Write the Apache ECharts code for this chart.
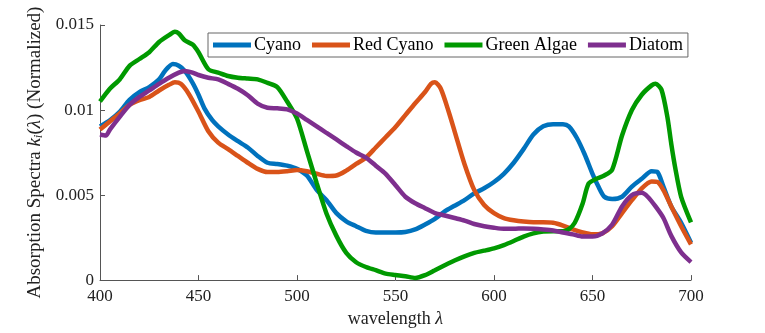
<!DOCTYPE html>
<html>
<head>
<meta charset="utf-8">
<script src="https://cdn.jsdelivr.net/npm/echarts@6/dist/echarts.min.js"></script>
<style>
  html, body { margin: 0; padding: 0; background: #fff; }
  #chart { width: 765px; height: 333px; }
</style>
</head>
<body>
<div id="chart"></div>
<script>
// values, in units of 1e-3
const cyanoX = [400,405,410,415,420,425,430,433,437,440,443,447,450,453,457,460,465,470,475,480,485,490,495,500,505,510,515,520,525,530,535,540,545,550,555,560,565,570,575,580,585,590,595,600,605,610,615,620,625,630,635,638,642,646,650,653,656,660,665,670,675,680,683,686,690,695,700]
const cyanoY = [9.04,9.4,9.9,10.6,11.05,11.35,11.8,12.3,12.7,12.6,12.3,11.6,10.9,10.1,9.4,9.04,8.56,8.17,7.8,7.3,6.9,6.83,6.73,6.54,6.15,5.3,4.7,3.94,3.46,3.17,2.9,2.8,2.8,2.8,2.83,2.98,3.27,3.6,4.04,4.37,4.7,5.1,5.4,5.77,6.25,6.9,7.7,8.56,9.04,9.17,9.17,9.04,8.37,7.4,6.25,5.5,4.9,4.77,4.9,5.5,5.96,6.4,6.35,5.5,4.33,3.37,2.2]

const redX = [400,405,410,415,420,425,430,435,438,441,445,450,455,460,465,470,475,480,485,490,495,500,505,510,515,520,525,530,535,540,545,550,555,560,565,568,570,573,577,580,585,590,595,600,605,610,615,620,625,630,635,640,645,650,655,660,665,670,675,680,683,686,690,695,700]
const redY = [8.85,9.33,9.8,10.3,10.58,10.77,11.15,11.48,11.63,11.54,10.96,9.9,8.75,8.08,7.7,7.3,6.9,6.54,6.35,6.35,6.4,6.48,6.4,6.25,6.12,6.15,6.44,6.83,7.2,7.8,8.4,9.0,9.7,10.4,11.06,11.54,11.63,11.25,9.9,8.75,6.83,5.29,4.42,3.94,3.65,3.52,3.44,3.4,3.4,3.37,3.21,2.98,2.8,2.69,2.75,3.17,3.94,4.7,5.4,5.8,5.77,5.29,4.33,3.17,2.1]

const greenX = [400,405,410,415,420,425,430,435,438,440,443,447,450,455,460,465,470,475,480,485,490,495,500,505,510,515,520,525,530,535,540,545,550,555,560,565,570,575,580,585,590,595,600,605,610,615,620,625,630,635,638,641,645,648,652,656,660,665,670,675,680,682,685,688,690,692,695,700]
const greenY = [10.5,11.25,11.8,12.6,13.0,13.4,14.0,14.4,14.6,14.5,14.1,13.85,13.4,12.4,12.2,12.0,11.9,11.85,11.8,11.6,11.35,10.5,9.5,7.6,5.7,3.9,2.6,1.6,1.05,0.77,0.58,0.38,0.3,0.23,0.13,0.29,0.58,0.87,1.15,1.4,1.6,1.73,1.87,2.06,2.3,2.56,2.75,2.85,2.87,2.87,3.0,3.37,4.5,5.67,5.96,6.15,6.5,8.5,10.0,10.9,11.45,11.55,11.2,9.6,8.0,6.6,4.9,3.4]

const diatomX = [400,403,405,410,415,420,425,430,435,440,443,447,450,455,460,465,470,475,480,485,490,495,500,505,510,515,520,525,530,535,540,545,550,555,560,565,570,575,580,585,590,595,600,605,610,615,620,625,630,635,640,645,650,655,660,665,670,675,678,682,686,690,695,700]
const diatomY = [8.56,8.5,8.85,9.6,10.3,10.77,11.15,11.54,11.9,12.2,12.3,12.2,12.06,11.9,11.8,11.54,11.25,10.87,10.38,10.13,10.1,10.04,9.8,9.42,9.04,8.65,8.27,7.88,7.5,7.2,6.73,6.25,5.58,4.9,4.52,4.23,3.94,3.8,3.65,3.5,3.3,3.17,3.08,3.02,3.02,3.04,3.02,2.98,2.92,2.8,2.69,2.56,2.56,2.75,3.27,4.33,5.0,5.13,4.9,4.33,3.65,2.6,1.63,1.06]

const seriesNames = ['Cyano', 'Red Cyano', 'Green Algae', 'Diatom']
const colors = ['#0072BD', '#D95319', '#009900', '#7E2F8E']

const pairs = (xs, ys) => xs.map((x, i) => [x, ys[i] / 1000])
const allData = [pairs(cyanoX, cyanoY), pairs(redX, redY), pairs(greenX, greenY), pairs(diatomX, diatomY)]

const font = 'Liberation Serif'
const chart = echarts.init(document.getElementById('chart'))

chart.setOption({
  animation: false,
  textStyle: { fontFamily: font },
  grid: { left: 100, right: 74, top: 25, bottom: 48 },
  legend: {
    data: seriesNames,
    left: 208,
    top: 33,
    padding: [3, 5, 3, 5],
    itemGap: 11,
    itemWidth: 38,
    itemHeight: 5,
    icon: 'rect',
    borderColor: '#666',
    borderWidth: 1,
    backgroundColor: '#fff',
    textStyle: { fontFamily: font, fontSize: 18, color: '#000', padding: [0, 0, 0, -2] }
  },
  xAxis: {
    type: 'value',
    min: 400,
    max: 700,
    interval: 50,
    name: 'wavelength {i|λ}',
    nameLocation: 'middle',
    nameGap: 29,
    nameTextStyle: {
      fontFamily: font, fontSize: 18, color: '#222',
      rich: { i: { fontFamily: font, fontStyle: 'italic', fontSize: 18, color: '#222' } }
    },
    splitLine: { show: false },
    axisLine: { lineStyle: { color: '#555', width: 1 } },
    axisTick: { inside: true, length: 5, lineStyle: { color: '#555' } },
    axisLabel: { fontFamily: font, fontSize: 17, color: '#222', margin: 8 }
  },
  yAxis: {
    type: 'value',
    min: 0,
    max: 0.015,
    interval: 0.005,
    name: 'Absorption Spectra {i|k}{s|i}({i|λ}) (Normalized)',
    nameLocation: 'middle',
    nameGap: 51,
    nameTextStyle: {
      fontFamily: font, fontSize: 19, color: '#222',
      rich: {
        i: { fontFamily: font, fontStyle: 'italic', fontSize: 19, color: '#222' },
        s: { fontFamily: font, fontStyle: 'italic', fontSize: 13, color: '#222', padding: [7, 0, 0, 0] }
      }
    },
    splitLine: { show: false },
    axisLine: { show: true, lineStyle: { color: '#555', width: 1 } },
    axisTick: { show: true, inside: true, length: 5, lineStyle: { color: '#555' } },
    axisLabel: { fontFamily: font, fontSize: 17, color: '#222', margin: 6 }
  },
  series: seriesNames.map((name, i) => ({
    name: name,
    type: 'line',
    data: allData[i],
    smooth: 0.25,
    showSymbol: false,
    color: colors[i],
    lineStyle: { width: 4.5, color: colors[i] },
    z: 2 + i
  }))
})
</script>
</body>
</html>
